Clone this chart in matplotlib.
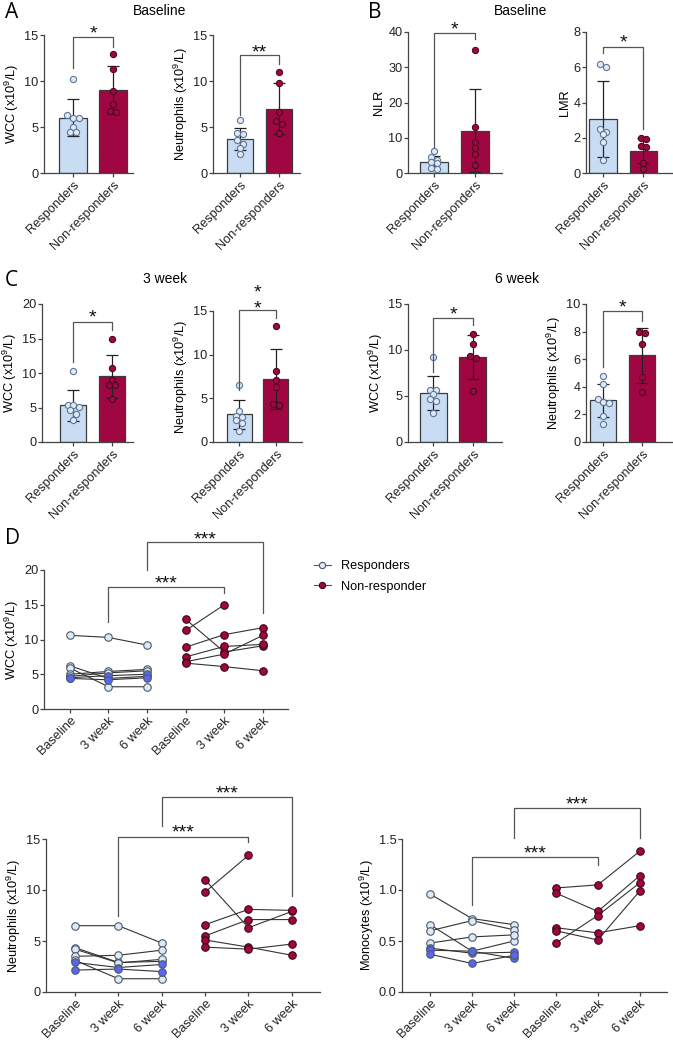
import numpy as np
import matplotlib
matplotlib.use('Agg')
import matplotlib.pyplot as plt
from matplotlib.lines import Line2D

plt.rcParams['font.family'] = ['Liberation Sans', 'DejaVu Sans']
plt.rcParams['mathtext.fontset'] = 'custom'
plt.rcParams['mathtext.rm'] = 'Liberation Sans'
plt.rcParams['mathtext.it'] = 'Liberation Sans:italic'
plt.rcParams['mathtext.default'] = 'regular'

# ---------------- data ----------------
groups = ['Responders', 'Non-responders']
timepoints = ['Baseline', '3 week', '6 week']

# A: baseline
a_wcc_resp = [10.2, 6.3, 6.0, 6.0, 5.0, 4.5, 4.5]
a_wcc_nonresp = [12.9, 11.3, 8.9, 7.5, 6.7, 6.6]
a_wcc_mean = [6.0, 9.0]
a_wcc_sd = [2.0, 2.6]

a_neu_resp = [5.8, 4.4, 4.2, 3.6, 3.2, 2.7, 2.1]
a_neu_nonresp = [11.0, 9.8, 6.6, 5.6, 5.3, 4.4]
a_neu_mean = [3.7, 7.0]
a_neu_sd = [1.2, 2.75]

# B: baseline ratios
b_nlr_resp = [6.1, 4.5, 3.8, 3.0, 2.9, 1.4, 1.1]
b_nlr_nonresp = [34.8, 13.1, 8.7, 7.2, 5.5, 2.2]
b_nlr_mean = [3.1, 12.0]
b_nlr_sd = [1.7, 11.7]

b_lmr_resp = [6.2, 6.0, 2.5, 2.3, 2.2, 1.75, 0.75]
b_lmr_nonresp = [2.0, 1.95, 1.55, 1.5, 0.55, 0.25]
b_lmr_mean = [3.07, 1.26]
b_lmr_sd = [2.15, 0.7]

# C: 3 week
c3_wcc_resp = [10.3, 5.4, 5.3, 5.1, 4.7, 4.1, 3.2]
c3_wcc_nonresp = [15.0, 10.7, 9.0, 8.2, 8.2, 6.2]
c3_wcc_mean = [5.3, 9.5]
c3_wcc_sd = [2.25, 3.1]

c3_neu_resp = [6.5, 3.6, 3.0, 2.9, 2.5, 2.2, 1.3]
c3_neu_nonresp = [13.3, 8.1, 7.1, 6.3, 4.4, 4.2]
c3_neu_mean = [3.15, 7.2]
c3_neu_sd = [1.63, 3.4]

# C: 6 week
c6_wcc_resp = [9.2, 5.7, 5.6, 5.2, 4.7, 4.5, 3.2]
c6_wcc_nonresp = [11.7, 10.6, 9.3, 9.1, 5.5]
c6_wcc_mean = [5.35, 9.2]
c6_wcc_sd = [1.85, 2.4]

c6_neu_resp = [4.8, 4.2, 3.1, 2.9, 2.8, 1.9, 1.3]
c6_neu_nonresp = [8.0, 7.9, 7.1, 4.7, 3.6]
c6_neu_mean = [3.03, 6.27]
c6_neu_sd = [1.2, 2.0]

# D: longitudinal (rows = patients, columns = Baseline, 3 week, 6 week)
d_wcc_resp = [[10.6, 10.3, 9.2], [6.2, 4.4, 4.7], [5.9, 3.2, 3.2], [5.0, 5.4, 5.7],
              [4.7, 5.2, 5.5], [4.5, 4.8, 5.0], [4.4, 4.2, 4.5]]
d_wcc_nonresp = [[12.9, 8.2, 9.1], [11.3, 15.0, np.nan], [8.9, 10.7, 11.7],
                 [7.5, 9.0, 9.3], [6.8, 7.9, 10.6], [6.6, 6.1, 5.5]]
d_wcc_dark = [5, 6]

d_neu_resp = [[6.5, 6.5, 4.8], [4.35, 2.9, 3.0], [4.2, 2.85, 3.2], [3.5, 3.6, 4.1],
              [3.1, 1.3, 1.3], [2.9, 2.4, 2.7], [2.15, 2.25, 2.0]]
d_neu_nonresp = [[11.0, 6.3, 7.9], [9.8, 13.4, np.nan], [6.6, 8.1, 8.0],
                 [5.5, 7.1, 7.1], [5.1, 4.4, 3.6], [4.4, 4.2, 4.7]]
d_neu_dark = [5, 6]

d_mono_resp = [[0.96, 0.72, 0.66], [0.66, 0.40, 0.50], [0.60, 0.70, 0.61], [0.48, 0.54, 0.56],
               [0.43, 0.38, 0.39], [0.41, 0.40, 0.33], [0.37, 0.28, 0.36]]
d_mono_nonresp = [[1.02, 1.05, 1.38], [0.97, 0.79, 1.14], [0.63, 0.58, 0.65],
                  [0.60, 0.51, 0.99], [0.48, 0.75, 1.07]]
d_mono_dark = [4, 5, 6]

# ---------------- style ----------------
W, H = 673, 1047
C_RESP = '#c8ddf4'
C_RESP_PT = '#dde9f7'
C_DARK = '#5a66ec'
C_NR = '#a00742'
C_EDGE = '#3a3a3a'
C_AX = '#444444'
FS = 9.2

fig = plt.figure(figsize=(W / 100, H / 100), dpi=100)


def px_axes(xl, xr, yt, yb):
    return fig.add_axes([xl / W, 1 - yb / H, (xr - xl) / W, (yb - yt) / H])


def style_axes(ax, ymax, yticks, ylabel, labels, rot=45):
    ax.set_ylim(0, ymax)
    ax.set_yticks(yticks)
    for s in ['top', 'right']:
        ax.spines[s].set_visible(False)
    for s in ['left', 'bottom']:
        ax.spines[s].set_color(C_AX)
        ax.spines[s].set_linewidth(0.9)
    ax.tick_params(colors='#222222', labelsize=FS, length=2.8, width=0.9, pad=1.2)
    ax.tick_params(axis='both', color=C_AX)
    ax.set_xticklabels(labels, rotation=rot, ha='right', rotation_mode='anchor', fontsize=FS)
    ax.set_ylabel(ylabel, fontsize=FS, labelpad=2)


def star_text(ax, x, y, s, fs=14):
    ax.annotate(s, xy=(x, y), xytext=(0, -0.58 * fs), textcoords='offset points',
                ha='center', va='baseline', fontsize=fs, color='#111111',
                annotation_clip=False)


def bracket(ax, x0, x1, ytop, yl, yr, stars_y, s):
    ax.plot([x0, x0, x1, x1], [yl, ytop, ytop, yr], color='#555555', lw=0.9,
            clip_on=False, zorder=5)
    for yy in stars_y:
        star_text(ax, (x0 + x1) / 2, yy, s)


def swarm(vals, ypu, xpu, d=5.6):
    vals = np.asarray(vals, float)
    order = np.argsort(-vals)
    offs = np.zeros(len(vals))
    rows = []
    for i in order:
        if rows and (vals[rows[-1][0]] - vals[i]) * ypu < d * 0.75:
            rows[-1].append(i)
        else:
            rows.append([i])
    for r in rows:
        n = len(r)
        for k, i in enumerate(r):
            offs[i] = (k - (n - 1) / 2) * d / xpu
    return offs


def bar_panel(box, xlim, resp, nonresp, means, sds, ymax, yticks, ylabel, br):
    xl, xr, yt, yb = box
    ax = px_axes(xl, xr, yt, yb)
    ax.set_xlim(*xlim)
    xs = np.arange(2)
    ax.bar(xs, means, width=0.68, color=[C_RESP, C_NR], edgecolor=C_EDGE,
           linewidth=0.9, zorder=2)
    ax.errorbar(xs, means, yerr=sds, fmt='none', ecolor='#222222', elinewidth=0.9,
                capsize=4.5, capthick=0.9, zorder=3)
    ypu = (yb - yt) / ymax
    xpu = (xr - xl) / (xlim[1] - xlim[0])
    for k, (pts, fc, ec) in enumerate([(resp, C_RESP_PT, '#5f7592'),
                                        (nonresp, C_NR, '#4a0a1e')]):
        off = swarm(pts, ypu, xpu)
        ax.scatter(k + off, pts, s=20, facecolor=fc, edgecolor=ec, linewidth=0.8,
                   zorder=4, clip_on=False)
    ax.set_xticks(xs)
    style_axes(ax, ymax, yticks, ylabel, groups)
    ytop, yl, yr, sy, s = br
    bracket(ax, 0, 1, ytop, yl, yr, sy, s)
    return ax


def line_panel(box, xlim, resp, nonresp, dark, ymax, yticks, ylabel, brs, yfmt=None):
    xl, xr, yt, yb = box
    ax = px_axes(xl, xr, yt, yb)
    ax.set_xlim(*xlim)
    t = np.arange(3)
    for i, row in enumerate(resp):
        row = np.asarray(row, float)
        fc = C_DARK if i in dark else C_RESP_PT
        ax.plot(t, row, color='#333333', lw=0.8, zorder=2)
        ax.plot(t, row, ls='none', marker='o', ms=5.4, mfc=fc, mec='#4d5a6a',
                mew=0.8, zorder=3)
    for row in nonresp:
        row = np.asarray(row, float)
        ax.plot(t + 3, row, color='#333333', lw=0.8, zorder=2)
        ax.plot(t + 3, row, ls='none', marker='o', ms=5.4, mfc=C_NR, mec='#3d0617',
                mew=0.8, zorder=3)
    ax.set_xticks(np.arange(6))
    style_axes(ax, ymax, yticks, ylabel, timepoints * 2)
    if yfmt:
        ax.set_yticklabels([yfmt.format(v) for v in yticks])
    for (x0, x1, ytop, yl, yr, sy) in brs:
        bracket(ax, x0, x1, ytop, yl, yr, [sy], '***')
    return ax


YL_WCC = 'WCC (x10$^{9}$/L)'
YL_NEU = 'Neutrophils (x10$^{9}$/L)'
YL_MON = 'Monocytes (x10$^{9}$/L)'

# Panel A
bar_panel((44, 133, 35, 173), (-0.725, 1.5), a_wcc_resp, a_wcc_nonresp, a_wcc_mean, a_wcc_sd,
          15, [0, 5, 10, 15], YL_WCC, (14.75, 11.4, 13.7, [15.8], '*'))
bar_panel((213, 300, 35, 173), (-0.69, 1.54), a_neu_resp, a_neu_nonresp, a_neu_mean, a_neu_sd,
          15, [0, 5, 10, 15], YL_NEU, (12.8, 6.3, 11.9, [13.8], '**'))
# Panel B
bar_panel((408, 502, 32, 173), (-0.63, 1.66), b_nlr_resp, b_nlr_nonresp, b_nlr_mean, b_nlr_sd,
          40, [0, 10, 20, 30, 40], 'NLR', (39.8, 7.5, 38.1, [42.5], '*'))
bar_panel((586, 672, 32, 173), (-0.41, 1.7), b_lmr_resp, b_lmr_nonresp, b_lmr_mean, b_lmr_sd,
          8, [0, 2, 4, 6, 8], 'LMR', (7.15, 6.8, 2.5, [7.75], '*'))
# Panel C
bar_panel((42, 133, 304, 442), (-0.8, 1.54), c3_wcc_resp, c3_wcc_nonresp, c3_wcc_mean, c3_wcc_sd,
          20, [0, 5, 10, 15, 20], YL_WCC, (17.4, 11.6, 16.2, [18.9], '*'))
bar_panel((213, 302, 311, 442), (-0.71, 1.71), c3_neu_resp, c3_neu_nonresp, c3_neu_mean, c3_neu_sd,
          15, [0, 5, 10, 15], YL_NEU, (15.1, 5.9, 14.2, [16.0, 17.85], '*'))
bar_panel((408, 502, 304, 442), (-0.63, 1.73), c6_wcc_resp, c6_wcc_nonresp, c6_wcc_mean, c6_wcc_sd,
          15, [0, 5, 10, 15], YL_WCC, (13.5, 7.6, 12.7, [14.5], '*'))
bar_panel((586, 672, 304, 442), (-0.44, 1.77), c6_neu_resp, c6_neu_nonresp, c6_neu_mean, c6_neu_sd,
          10, [0, 2, 4, 6, 8, 10], YL_NEU, (9.5, 5.45, 8.8, [10.2], '*'))

# Panel D
line_panel((44, 288, 570, 709), (-0.67, 5.65), d_wcc_resp, d_wcc_nonresp, d_wcc_dark,
           20, [0, 5, 10, 15, 20], YL_WCC,
           [(2, 5, 24.0, 20.0, 13.8, 25.3), (1, 4, 17.55, 12.5, 16.7, 19.0)])
line_panel((46, 320, 839, 992), (-0.67, 5.65), d_neu_resp, d_neu_nonresp, d_neu_dark,
           15, [0, 5, 10, 15], YL_NEU,
           [(2, 5, 19.1, 16.3, 9.4, 20.1), (1, 4, 15.2, 7.5, 14.7, 16.3)])
line_panel((402, 667, 839, 992), (-0.67, 5.65), d_mono_resp, d_mono_nonresp, d_mono_dark,
           1.5, [0, 0.5, 1.0, 1.5], YL_MON,
           [(2, 5, 1.80, 1.51, 1.51, 1.90), (1, 4, 1.32, 0.85, 1.25, 1.42)], yfmt='{:.1f}')

# legend
handles = [Line2D([0], [0], color='#555555', lw=0.8, marker='o', ms=4.5, mfc=C_RESP_PT,
                  mec='#4d5a6a', mew=0.8),
           Line2D([0], [0], color='#555555', lw=0.8, marker='o', ms=4.5, mfc=C_NR,
                  mec='#3d0617', mew=0.8)]
fig.legend(handles, ['Responders', 'Non-responder'], loc='upper left',
           bbox_to_anchor=(314 / W, 1 - 560 / H), frameon=False, fontsize=FS,
           handlelength=1.3, handletextpad=0.8, labelspacing=0.7, borderpad=0,
           borderaxespad=0)

# panel letters and titles
for s, x, y in [('A', 5, 13), ('B', 368, 13), ('C', 5, 280), ('D', 5, 538)]:
    fig.text(x / W, 1 - y / H, s, fontsize=15, family='Open Sans', va='center', ha='left')
for s, x, y in [('Baseline', 160, 11), ('Baseline', 521, 11), ('3 week', 165, 279), ('6 week', 517, 279)]:
    fig.text(x / W, 1 - y / H, s, fontsize=10, va='center', ha='center', fontweight='normal')

fig.savefig('out.png', dpi=100)
